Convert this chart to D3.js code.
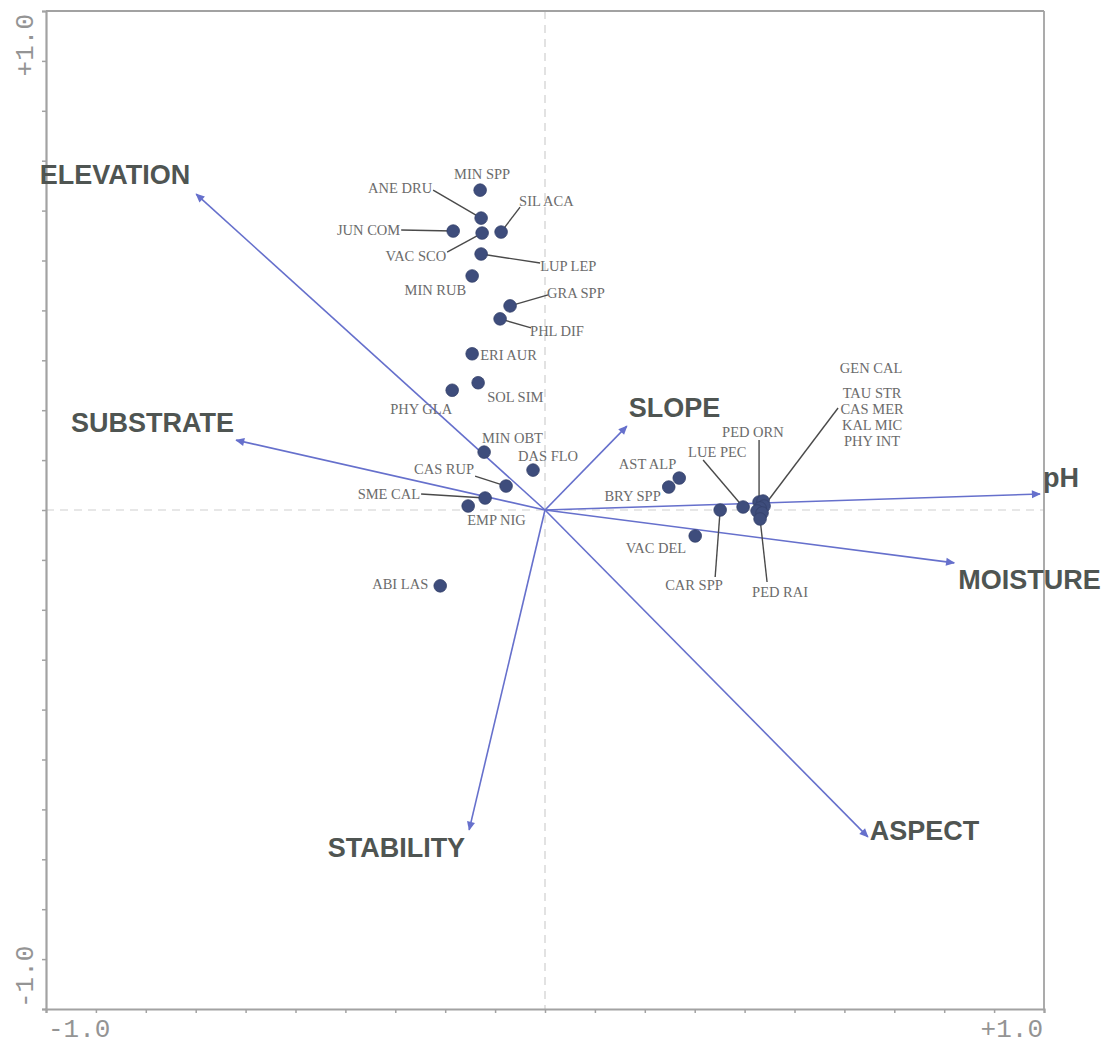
<!DOCTYPE html>
<html>
<head>
<meta charset="utf-8">
<script src="https://cdn.jsdelivr.net/npm/d3@7"></script>
<style>
  html, body { margin: 0; padding: 0; background: #fff; }
  svg { display: block; }
</style>
</head>
<body>
<svg id="chart" width="1104" height="1044"></svg>
<script>
// Environmental variables (biplot arrows), axis 1 and axis 2 scores
const envNames = ["ELEVATION", "SUBSTRATE", "SLOPE", "pH", "MOISTURE", "ASPECT", "STABILITY"];
const envAxis1 = [-0.699, -0.619, 0.164, 0.992, 0.820, 0.647, -0.152];
const envAxis2 = [0.633, 0.140, 0.168, 0.032, -0.106, -0.655, -0.641];

// Species scores
const speciesNames = [
  "MIN SPP", "ANE DRU", "JUN COM", "VAC SCO", "SIL ACA", "LUP LEP", "MIN RUB",
  "GRA SPP", "PHL DIF", "ERI AUR", "SOL SIM", "PHY GLA", "MIN OBT", "DAS FLO",
  "CAS RUP", "SME CAL", "EMP NIG", "ABI LAS", "AST ALP", "BRY SPP", "LUE PEC",
  "CAR SPP", "VAC DEL", "PED ORN", "GEN CAL", "TAU STR", "CAS MER", "KAL MIC",
  "PHY INT", "PED RAI"
];
const speciesAxis1 = [
  -0.130, -0.128, -0.184, -0.126, -0.088, -0.128, -0.146,
  -0.070, -0.090, -0.146, -0.134, -0.186, -0.122, -0.024,
  -0.078, -0.120, -0.154, -0.210, 0.269, 0.248, 0.397,
  0.351, 0.301, 0.429, 0.437, 0.439, 0.431, 0.425,
  0.435, 0.431
];
const speciesAxis2 = [
  0.641, 0.585, 0.559, 0.555, 0.557, 0.513, 0.469,
  0.409, 0.383, 0.313, 0.255, 0.240, 0.116, 0.080,
  0.048, 0.024, 0.008, -0.152, 0.064, 0.046, 0.006,
  0.000, -0.052, 0.016, 0.018, 0.008, 0.004, -0.002,
  -0.006, -0.018
];

// Axis end labels
const xTickLabels = ["-1.0", "+1.0"];
const yTickLabels = ["-1.0", "+1.0"];

// Label placement (pixel offsets from the point): text anchor, text offset, optional leader end
const speciesLabelLayout = [
  ["middle", 2, -11, null],
  ["end", -49, -25, [-48, -28]],
  ["end", -53, 4, [-52, -1]],
  ["end", -36, 28, [-35, 19]],
  ["start", 18, -26, [19, -25]],
  ["start", 59, 17, [59, 9]],
  ["end", -6, 19, null],
  ["start", 37, -8, [38, -11]],
  ["start", 30, 17, [31, 9]],
  ["start", 8, 6, null],
  ["start", 9, 19, null],
  ["end", 0, 24, null],
  ["start", -2, -9, null],
  ["start", -15, -9, null],
  ["end", -32, -12, [-31, -10]],
  ["end", -65, 1, [-64, -4]],
  ["start", -1, 19, null],
  ["end", -12, 3, null],
  ["end", -3, -9, null],
  ["end", -8, 14, null],
  ["start", -55, -50, [-40, -47]],
  ["start", -55, 80, [-5, 67]],
  ["end", -9, 17, null],
  ["start", -37, -65, [0, -62]],
  ["middle", 108, -128, null],
  ["middle", 108, -108, [74, -98]],
  ["middle", 112, -94, null],
  ["middle", 115, -81, null],
  ["middle", 110, -67, null],
  ["start", -8, 78, [7, 63]]
];
const envLabelLayout = [
  ["end", -6, -10],
  ["end", -2, -8],
  ["start", 2, -9],
  ["start", 3, -7],
  ["start", 4, 26],
  ["start", 2, 3],
  ["end", -4, 27]
];

const svg = d3.select("#chart");
const x = d3.scaleLinear().domain([-1, 1]).range([46, 1044]);
const y = d3.scaleLinear().domain([-1, 1]).range([1009, 11]);

const frameColor = "#a2a2a2";
const arrowColor = "#6670cc";

svg.append("rect").attr("width", 1104).attr("height", 1044).attr("fill", "#fff");

// Dashed zero lines
svg.append("line")
  .attr("x1", x(0)).attr("x2", x(0)).attr("y1", y(1)).attr("y2", y(-1))
  .attr("stroke", "#cfcfcf").attr("stroke-width", 1.2).attr("stroke-dasharray", "8,6");
svg.append("line")
  .attr("x1", x(-1)).attr("x2", x(1)).attr("y1", y(0)).attr("y2", y(0))
  .attr("stroke", "#cfcfcf").attr("stroke-width", 1.2).attr("stroke-dasharray", "8,6");

// Frame: axes on left and bottom with ticks every 0.1, plain border top and right
const tickVals = d3.range(-10, 11).map(d => d / 10);
const leftAxis = d3.axisLeft(y).tickValues(tickVals).tickSize(4).tickFormat("");
const bottomAxis = d3.axisBottom(x).tickValues(tickVals).tickSize(4).tickFormat("");
const gl = svg.append("g").attr("transform", `translate(${x(-1)},0)`).call(leftAxis);
const gb = svg.append("g").attr("transform", `translate(0,${y(-1)})`).call(bottomAxis);
[gl, gb].forEach(g => {
  g.select(".domain").attr("stroke", frameColor).attr("stroke-width", 2.2);
  g.selectAll(".tick line").attr("stroke", frameColor).attr("stroke-width", 1.5);
});
svg.append("line").attr("x1", x(-1)).attr("x2", x(1)).attr("y1", y(1)).attr("y2", y(1))
  .attr("stroke", frameColor).attr("stroke-width", 1.8);
svg.append("line").attr("x1", x(1)).attr("x2", x(1)).attr("y1", y(1)).attr("y2", y(-1))
  .attr("stroke", frameColor).attr("stroke-width", 1.8);

// Axis end labels
const tickLayer = svg.append("g")
  .attr("font-family", "'Liberation Mono', 'DejaVu Sans Mono', monospace")
  .attr("font-size", 26).attr("fill", "#949494");
tickLayer.append("text").attr("x", x(-1) + 2).attr("y", y(-1) + 28)
  .attr("text-anchor", "start").text(xTickLabels[0]);
tickLayer.append("text").attr("x", x(1) - 1).attr("y", y(-1) + 28)
  .attr("text-anchor", "end").text(xTickLabels[1]);
tickLayer.append("text").attr("transform", `translate(33,${y(-1) - 1}) rotate(-90)`)
  .attr("text-anchor", "start").text(yTickLabels[0]);
tickLayer.append("text").attr("transform", `translate(33,${y(1) + 3}) rotate(-90)`)
  .attr("text-anchor", "end").text(yTickLabels[1]);

// Arrow marker
svg.append("defs").append("marker")
  .attr("id", "arrowhead").attr("viewBox", "0 0 10 10")
  .attr("refX", 9).attr("refY", 5)
  .attr("markerUnits", "userSpaceOnUse")
  .attr("markerWidth", 11).attr("markerHeight", 9)
  .attr("orient", "auto")
  .append("path").attr("d", "M0,0.5 L10,5 L0,9.5 z").attr("fill", arrowColor);

const envData = envNames.map((name, i) => ({
  name, a1: envAxis1[i], a2: envAxis2[i], layout: envLabelLayout[i]
}));

svg.append("g").selectAll("line").data(envData).join("line")
  .attr("x1", x(0)).attr("y1", y(0))
  .attr("x2", d => x(d.a1)).attr("y2", d => y(d.a2))
  .attr("stroke", arrowColor).attr("stroke-width", 1.6)
  .attr("marker-end", "url(#arrowhead)");

svg.append("g").selectAll("text").data(envData).join("text")
  .attr("x", d => x(d.a1) + d.layout[1])
  .attr("y", d => y(d.a2) + d.layout[2])
  .attr("text-anchor", d => d.layout[0])
  .attr("font-family", "'Liberation Sans', Arial, sans-serif")
  .attr("font-weight", "bold").attr("font-size", 27)
  .attr("fill", "#4f5552")
  .text(d => d.name);

// Species points, leaders and labels
const speciesData = speciesNames.map((name, i) => ({
  name, a1: speciesAxis1[i], a2: speciesAxis2[i], layout: speciesLabelLayout[i]
}));

svg.append("g").selectAll("line").data(speciesData.filter(d => d.layout[3])).join("line")
  .attr("x1", d => x(d.a1)).attr("y1", d => y(d.a2))
  .attr("x2", d => x(d.a1) + d.layout[3][0]).attr("y2", d => y(d.a2) + d.layout[3][1])
  .attr("stroke", "#4a4a4a").attr("stroke-width", 1.4);

svg.append("g").selectAll("circle").data(speciesData).join("circle")
  .attr("cx", d => x(d.a1)).attr("cy", d => y(d.a2)).attr("r", 6.3)
  .attr("fill", "#3e4d7c").attr("stroke", "#33406a").attr("stroke-width", 0.8);

svg.append("g").selectAll("text").data(speciesData).join("text")
  .attr("x", d => x(d.a1) + d.layout[1])
  .attr("y", d => y(d.a2) + d.layout[2])
  .attr("text-anchor", d => d.layout[0])
  .attr("font-family", "'Liberation Serif', 'Times New Roman', serif")
  .attr("font-size", 14.5)
  .attr("fill", "#6b6b6b")
  .text(d => d.name);
</script>
</body>
</html>
